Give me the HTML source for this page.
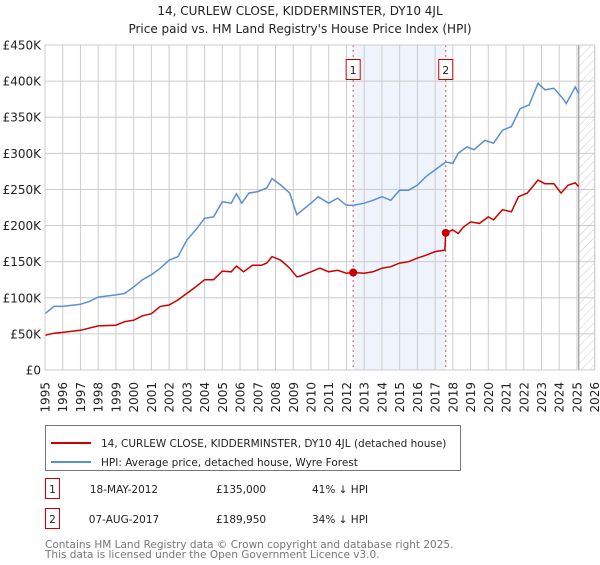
<!DOCTYPE html>
<html><head><meta charset="utf-8"><style>
body{margin:0;background:#fff;font-family:"Liberation Sans","DejaVu Sans",sans-serif;}
svg text{font-family:"DejaVu Sans","Liberation Sans",sans-serif;}
</style></head><body>
<svg id="chart" width="600" height="560" viewBox="0 0 600 560" xmlns="http://www.w3.org/2000/svg">
<defs><pattern id="hatch" width="6" height="6" patternUnits="userSpaceOnUse" patternTransform="rotate(45)"><line x1="0" y1="0" x2="0" y2="6" stroke="#ccc" stroke-width="1"/></pattern></defs>
<text x="300" y="15" text-anchor="middle" font-size="12" fill="#222">14, CURLEW CLOSE, KIDDERMINSTER, DY10 4JL</text>
<text x="300" y="33" text-anchor="middle" font-size="12" fill="#222">Price paid vs. HM Land Registry's House Price Index (HPI)</text>
<g id="plot"></g>
<g>
<rect x="45.5" y="425.5" width="415" height="45" fill="#fff" stroke="#777"/>
<line x1="51" y1="443" x2="91" y2="443" stroke="#cc0000" stroke-width="2"/>
<text x="101" y="447" font-size="10.5" fill="#222">14, CURLEW CLOSE, KIDDERMINSTER, DY10 4JL (detached house)</text>
<line x1="51" y1="462" x2="91" y2="462" stroke="#5b8fd4" stroke-width="2"/>
<text x="101" y="466" font-size="10.5" fill="#222">HPI: Average price, detached house, Wyre Forest</text>
</g>
<g font-size="10.5" fill="#222">
<rect x="45.5" y="478.5" width="14" height="20" fill="#fff" stroke="#cc0000"/><text x="52.5" y="493" text-anchor="middle">1</text>
<text x="124" y="493" text-anchor="middle">18-MAY-2012</text><text x="216" y="493">£135,000</text><text x="312" y="493">41% ↓ HPI</text>
<rect x="45.5" y="508.5" width="14" height="20" fill="#fff" stroke="#cc0000"/><text x="52.5" y="523" text-anchor="middle">2</text>
<text x="124" y="523" text-anchor="middle">07-AUG-2017</text><text x="216" y="523">£189,950</text><text x="312" y="523">34% ↓ HPI</text>
</g>
<text x="45" y="548" font-size="10.5" fill="#777">Contains HM Land Registry data © Crown copyright and database right 2025.</text>
<text x="45" y="558" font-size="10.5" fill="#777">This data is licensed under the Open Government Licence v3.0.</text>
</svg>
<script>
const yTicks=[0,50,100,150,200,250,300,350,400,450];
const yTickLabels=["£0","£50K","£100K","£150K","£200K","£250K","£300K","£350K","£400K","£450K"];
const xYears=[1995,1996,1997,1998,1999,2000,2001,2002,2003,2004,2005,2006,2007,2008,2009,2010,2011,2012,2013,2014,2015,2016,2017,2018,2019,2020,2021,2022,2023,2024,2025,2026];
const hpiT=[1995,1995.5,1996,1997,1997.5,1998,1999,1999.5,2000,2000.5,2001,2001.5,2002,2002.5,2003,2003.5,2004,2004.5,2005,2005.5,2005.8,2006.1,2006.5,2007,2007.5,2007.8,2008.3,2008.8,2009.2,2009.4,2010,2010.4,2011,2011.5,2012,2012.4,2013,2013.5,2014,2014.5,2015,2015.5,2016,2016.5,2017,2017.6,2018,2018.3,2018.8,2019.2,2019.8,2020.3,2020.8,2021.3,2021.8,2022.3,2022.8,2023.2,2023.7,2024.2,2024.4,2024.9,2025.1];
const hpiV=[78,88,88,91,95,101,104,106,115,125,132,141,152,157,180,194,210,212,233,231,244,231,245,247,252,265,256,245,215,219,231,240,231,238,228,228,231,235,240,235,249,249,256,268,277,288,286,300,309,305,318,314,332,337,362,367,397,388,390,376,369,392,383];
const ppT=[1995,1995.5,1996,1997,1998,1999,1999.5,2000,2000.5,2001,2001.5,2002,2002.5,2003,2003.5,2004,2004.5,2005,2005.5,2005.8,2006.2,2006.7,2007.2,2007.5,2007.8,2008.3,2008.8,2009.2,2009.4,2010,2010.5,2011,2011.5,2012,2012.38,2013,2013.5,2014,2014.5,2015,2015.5,2016,2016.5,2017,2017.55,2017.6,2018,2018.3,2018.6,2019,2019.5,2020,2020.3,2020.8,2021.3,2021.7,2022.2,2022.8,2023.2,2023.7,2024.1,2024.5,2024.9,2025.1];
const ppV=[48,51,52,55,61,62,67,69,75,78,88,90,97,106,115,125,125,137,136,144,136,145,145,148,157,152,141,129,130,136,141,136,138,134,135,134,136,141,143,148,150,155,159,164,166,189.95,194,189,198,205,203,212,208,222,219,240,245,263,258,258,245,256,259,254];
const saleT=[2012.38,2017.6];
const saleV=[135,189.95];
const saleLabels=["1","2"];
const L=45,R=594.7,T=45,B=370,X0=1995,X1=2026,YMAX=450;
const sx=t=>L+(t-X0)*(R-L)/(X1-X0);
const sy=v=>B-v*(B-T)/YMAX;
const NS="http://www.w3.org/2000/svg";
const g=document.getElementById('plot');
function mk(tag,attrs){const e=document.createElementNS(NS,tag);for(const k in attrs)e.setAttribute(k,attrs[k]);g.appendChild(e);return e;}
let e;
e=mk('rect',{x:sx(saleT[0]),y:T,width:sx(saleT[1])-sx(saleT[0]),height:B-T,fill:'#eef3fc'});


e=mk('rect',{x:sx(2025.1),y:T,width:R-sx(2025.1),height:B-T,fill:'url(#hatch)'});


yTicks.forEach((v,i)=>{
 e=mk('line',{x1:L,x2:R,y1:sy(v),y2:sy(v),stroke:'#ccc','stroke-width':1});
 
 
 e=mk('text',{x:L-4,y:sy(v)+4.5,'text-anchor':'end','font-size':12,fill:'#222'});e.textContent=yTickLabels[i];
 
 
});
xYears.forEach(yr=>{
 e=mk('line',{x1:sx(yr),x2:sx(yr),y1:T,y2:B,stroke:'#ccc','stroke-width':1});
 
 
 e=mk('text',{transform:`translate(${sx(yr)+4.5},382) rotate(-90)`,'text-anchor':'end','font-size':12,fill:'#222'});e.textContent=yr;
 
 
});
e=mk('line',{x1:sx(2025.1),x2:sx(2025.1),y1:T,y2:B,stroke:'#999','stroke-width':1.2});


saleT.forEach((t,i)=>{
 e=mk('line',{x1:sx(t),x2:sx(t),y1:T,y2:B,stroke:'#e05050','stroke-width':1,'stroke-dasharray':'2,3'});
 
 
 e=mk('rect',{x:sx(t)-7,y:59.5,width:14,height:20,fill:'#fff',stroke:'#cc0000'});
 
 
 e=mk('text',{x:sx(t),y:74,'text-anchor':'middle','font-size':11,fill:'#222'});e.textContent=saleLabels[i];
 
 
});
e=mk('path',{d:hpiT.map((t,i)=>(i?'L':'M')+sx(t).toFixed(1)+','+sy(hpiV[i]).toFixed(1)).join(''),fill:'none',stroke:'#5b8fd4','stroke-width':1.5});


e=mk('path',{d:ppT.map((t,i)=>(i?'L':'M')+sx(t).toFixed(1)+','+sy(ppV[i]).toFixed(1)).join(''),fill:'none',stroke:'#cc0000','stroke-width':1.5});


saleT.forEach((t,i)=>{
 e=mk('circle',{cx:sx(t),cy:sy(saleV[i]),r:4,fill:'#cc0000'});
 
 
});
e=mk('rect',{x:L,y:T,width:R-L,height:B-T,fill:'none',stroke:'#ccc'});


</script>
</body></html>
